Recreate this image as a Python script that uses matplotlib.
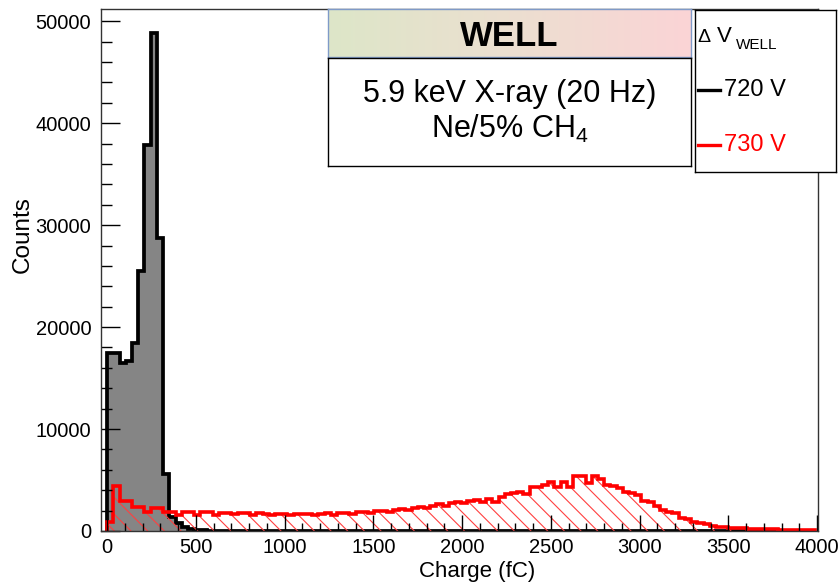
import numpy as np
import matplotlib
matplotlib.use("Agg")
import matplotlib.pyplot as plt
from matplotlib.colors import LinearSegmentedColormap
from matplotlib.lines import Line2D

plt.rcParams["font.family"] = ["Liberation Sans", "DejaVu Sans"]
plt.rcParams["mathtext.fontset"] = "custom"
plt.rcParams["mathtext.rm"] = "Liberation Sans"
plt.rcParams["hatch.linewidth"] = 0.8

# 35 fC bins from 0 to 3990 fC
edges = np.arange(0, 4000, 35)

# 720 V (black), counts per bin
black = [17500, 17500, 16500, 16700, 18400, 25500, 37900, 48800, 28700, 5600,
         1400, 800, 400, 200, 100, 60, 40, 30, 20, 10] + [0] * 94

# 730 V (red), counts per bin
red = [900, 4400, 2900, 2900, 2400, 2400, 1900, 2250, 2250, 1900,
       1900, 1600, 1900, 1850, 1600, 1850, 1850, 1600, 1800, 1800,
       1650, 1800, 1750, 1550, 1750, 1700, 1550, 1700, 1700, 1550,
       1700, 1650, 1700, 1550, 1700, 1750, 1600, 1750, 1800, 1650,
       1850, 1900, 1800, 1950, 2000, 1900, 2100, 2150, 2050, 2300,
       2350, 2250, 2500, 2600, 2500, 2750, 2850, 2700, 2950, 3000,
       2800, 3100, 2800, 3350, 3600, 3700, 3850, 3600, 4300, 4350,
       4500, 4800, 4350, 4800, 4350, 5350, 5350, 4700, 5400, 5100,
       4500, 4400, 4200, 3800, 3700, 3500, 2900, 2800, 2500, 2100,
       1900, 1800, 1250, 1200, 900, 750, 700, 450, 400, 400,
       280, 260, 250, 200, 200, 180, 160, 150, 130, 120, 100, 100, 80, 60]

labels = ["720 V", "730 V"]
colors = ["black", "#ff0000"]

W, H = 839, 586
fig = plt.figure(figsize=(W / 100, H / 100), dpi=100)


def px_axes(x0, y0, x1, y1):
    """axes from pixel box (top-left origin)"""
    return fig.add_axes([x0 / W, 1 - y1 / H, (x1 - x0) / W, (y1 - y0) / H])


ax = px_axes(101, 9, 818, 531)

# black histogram: gray fill + thick outline
ax.stairs(black, edges, fill=True, facecolor="#858585", edgecolor="none", linewidth=0)
ax.stairs(black, edges, color="black", linewidth=2.7)
# red histogram: hatched fill + thick outline
ax.stairs(red, edges, fill=True, facecolor="none", edgecolor="#ff4040",
          hatch="\\\\", linewidth=0)
ax.stairs(red, edges, color=colors[1], linewidth=2.6)

ax.set_xlim(-35, 4005)
ax.set_ylim(0, 51200)
ax.set_xticks(np.arange(0, 4001, 500))
ax.set_xticks(np.arange(0, 4001, 100), minor=True)
ax.set_yticks(np.arange(0, 50001, 10000))
ax.set_yticks(np.arange(0, 51001, 2000), minor=True)
ax.tick_params(which="both", direction="in", top=False, right=False,
               labelsize=14.5, colors="black")
ax.tick_params(axis="x", which="major", length=11.5, width=1, pad=5)
ax.tick_params(axis="x", which="minor", length=5.8, width=1)
ax.tick_params(axis="y", which="major", length=14, width=1, pad=7)
ax.tick_params(axis="y", which="minor", length=8, width=1)
for s in ax.spines.values():
    s.set_linewidth(1)
    s.set_color("#333333")

ax.set_xlabel("Charge (fC)", fontsize=16, va="center")
ax.xaxis.set_label_coords((477 - 101) / 717, (531 - 572) / 522)
ax.set_ylabel("Counts", fontsize=17.5, va="center")
ax.yaxis.set_label_coords((23 - 101) / 717, (531 - 235) / 522)

# WELL title box with gradient
tb = px_axes(328, 9, 691, 57)
grad = LinearSegmentedColormap.from_list("g", ["#dde6c8", "#ecdfd0", "#fbd4d6"])
tb.imshow(np.linspace(0, 1, 256)[None, :], cmap=grad, aspect="auto", extent=[0, 1, 0, 1])
tb.set_xlim(0, 1)
tb.set_ylim(0, 1)
tb.set_xticks([])
tb.set_yticks([])
for s in tb.spines.values():
    s.set_color("#7f9ac8")
    s.set_linewidth(1)
tb.text(0.5, (57 - 46.5) / 48, "WELL", fontsize=25, fontweight="bold",
        ha="center", va="baseline", transform=tb.transAxes)

# info box
ib = px_axes(328, 58, 691, 166)
ib.set_xticks([])
ib.set_yticks([])
for s in ib.spines.values():
    s.set_color("black")
    s.set_linewidth(1)
ib.text(0.5, (166 - 102) / 108, "5.9 keV X-ray (20 Hz)", fontsize=22,
        ha="center", va="baseline", transform=ib.transAxes)
ib.text(0.5, (166 - 138) / 108, r"Ne/5% CH$_{\mathrm{4}}$", fontsize=22,
        ha="center", va="baseline", transform=ib.transAxes)

# legend box
lb = px_axes(695, 10, 836, 172)
lb.set_xlim(695, 836)
lb.set_ylim(172, 10)
lb.set_xticks([])
lb.set_yticks([])
for s in lb.spines.values():
    s.set_color("black")
    s.set_linewidth(1)
lb.text(697, 42, "\u0394", fontsize=14, va="baseline", ha="left")
lb.text(717, 42, "V", fontsize=16, va="baseline", ha="left")
lb.text(736, 49, "WELL", fontsize=11, va="baseline", ha="left")
for lab, col, yy in zip(labels, colors, [90, 145]):
    lb.add_line(Line2D([698, 720], [yy, yy], color=col, linewidth=2.4))
    lb.text(724, yy, lab, fontsize=17, color=col, va="center", ha="left")

fig.savefig("out.png", dpi=100)
